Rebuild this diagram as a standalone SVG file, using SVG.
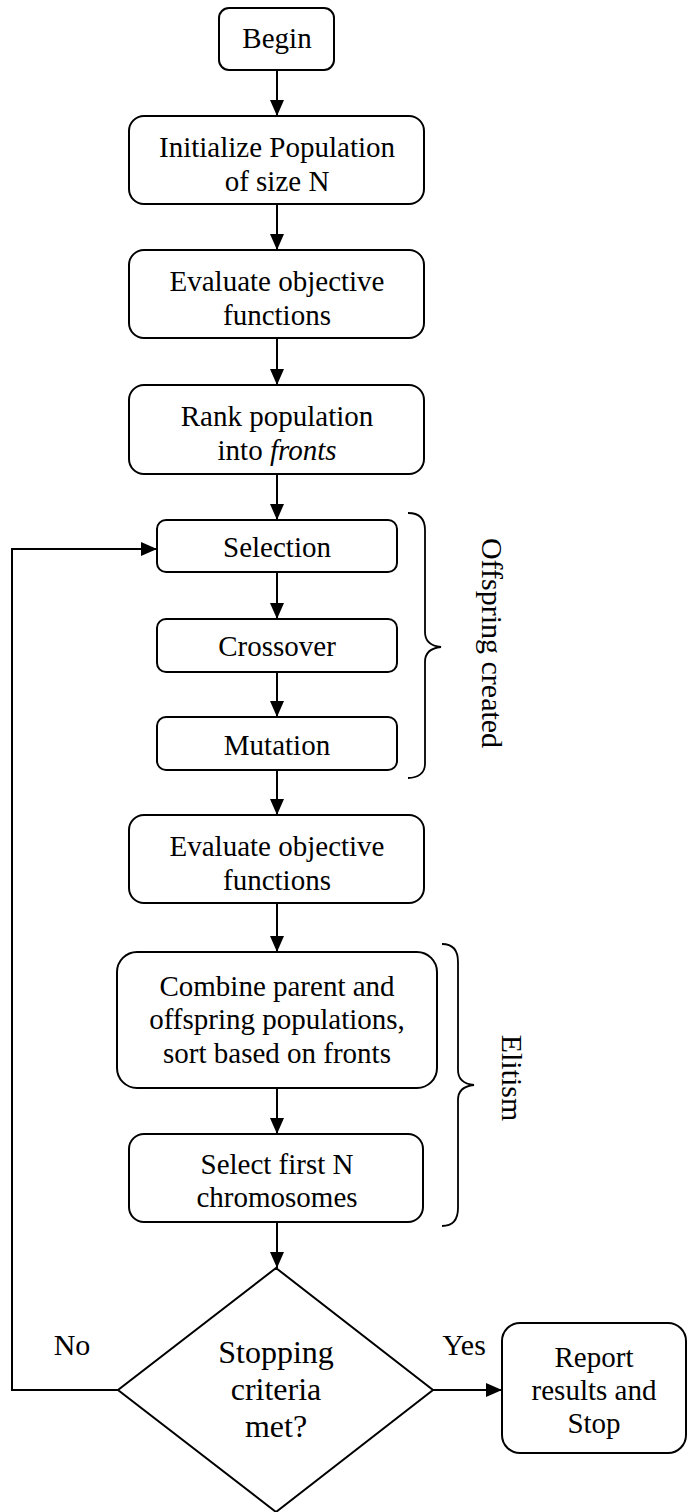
<svg xmlns="http://www.w3.org/2000/svg" width="688" height="1512" viewBox="0 0 688 1512">
  <style>
    .box { fill: #fff; stroke: #000; stroke-width: 2; }
    text { font-family: "Liberation Serif", serif; font-size: 14.5px; fill: #000; text-anchor: middle; }
    .side { font-size: 15px; }
    .big { font-size: 16px; }
    .rot { font-size: 30px; }
    .edge { fill: none; stroke: #000; stroke-width: 2; }
    .brace { fill: none; stroke: #000; stroke-width: 1.8; }
  </style>
  <defs>
    <marker id="arrow" viewBox="0 0 16 14" refX="16" refY="7" markerWidth="16" markerHeight="14" markerUnits="userSpaceOnUse" orient="auto">
      <path d="M0,0 L16,7 L0,14 Z" fill="#000"/>
    </marker>
  </defs>

  <!-- connectors -->
  <g id="connectors">
    <line class="edge" x1="277" y1="70" x2="277" y2="116" marker-end="url(#arrow)"/>
    <line class="edge" x1="277" y1="204" x2="277" y2="250" marker-end="url(#arrow)"/>
    <line class="edge" x1="277" y1="338" x2="277" y2="385" marker-end="url(#arrow)"/>
    <line class="edge" x1="277" y1="474" x2="277" y2="520" marker-end="url(#arrow)"/>
    <line class="edge" x1="277" y1="572" x2="277" y2="619" marker-end="url(#arrow)"/>
    <line class="edge" x1="277" y1="672" x2="277" y2="717" marker-end="url(#arrow)"/>
    <line class="edge" x1="277" y1="770" x2="277" y2="815" marker-end="url(#arrow)"/>
    <line class="edge" x1="277" y1="903" x2="277" y2="952" marker-end="url(#arrow)"/>
    <line class="edge" x1="277" y1="1088" x2="277" y2="1134" marker-end="url(#arrow)"/>
    <line class="edge" x1="277" y1="1222" x2="277" y2="1268" marker-end="url(#arrow)"/>
    <line class="edge" x1="433" y1="1390" x2="502" y2="1390" marker-end="url(#arrow)"/>
    <polyline class="edge" points="118,1390 12,1390 12,549 157,549" marker-end="url(#arrow)"/>
  </g>

  <!-- labels are set at half size and scaled up by 2 -->
  <g id="begin">
    <rect class="box" x="219" y="8" width="115" height="62" rx="10"/>
    <text transform="translate(277 48) scale(2)">Begin</text>
  </g>

  <g id="init">
    <rect class="box" x="129" y="116" width="295" height="88" rx="15"/>
    <text transform="translate(277 157) scale(2)">Initialize Population</text>
    <text transform="translate(277 191) scale(2)">of size N</text>
  </g>

  <g id="evaluate1">
    <rect class="box" x="129" y="250" width="295" height="88" rx="15"/>
    <text transform="translate(277 291) scale(2)">Evaluate objective</text>
    <text transform="translate(277 325) scale(2)">functions</text>
  </g>

  <g id="rank">
    <rect class="box" x="129" y="385" width="295" height="89" rx="15"/>
    <text transform="translate(277 426) scale(2)">Rank population</text>
    <text transform="translate(277 460) scale(2)">into <tspan font-style="italic">fronts</tspan></text>
  </g>

  <g id="selection">
    <rect class="box" x="157" y="520" width="240" height="52" rx="9"/>
    <text transform="translate(277 557) scale(2)">Selection</text>
  </g>

  <g id="crossover">
    <rect class="box" x="157" y="619" width="240" height="53" rx="9"/>
    <text transform="translate(277 656) scale(2)">Crossover</text>
  </g>

  <g id="mutation">
    <rect class="box" x="157" y="717" width="240" height="53" rx="9"/>
    <text transform="translate(277 755) scale(2)">Mutation</text>
  </g>

  <g id="offspring-brace">
    <path class="brace" d="M408,513 C418,513 425,518 425,530 L425,632 C425,641 431,646 441,647 C431,648 425,653 425,662 L425,764 C425,773 418,778 408,778"/>
    <text class="rot" transform="translate(482,643) rotate(90)">Offspring created</text>
  </g>

  <g id="evaluate2">
    <rect class="box" x="129" y="815" width="295" height="88" rx="15"/>
    <text transform="translate(277 856) scale(2)">Evaluate objective</text>
    <text transform="translate(277 890) scale(2)">functions</text>
  </g>

  <g id="combine">
    <rect class="box" x="117" y="952" width="320" height="136" rx="20"/>
    <text transform="translate(277 996) scale(2)">Combine parent and</text>
    <text transform="translate(277 1029) scale(2)">offspring populations,</text>
    <text transform="translate(277 1063) scale(2)">sort based on fronts</text>
  </g>

  <g id="select-first">
    <rect class="box" x="129" y="1134" width="294" height="88" rx="15"/>
    <text transform="translate(277 1174) scale(2)">Select first N</text>
    <text transform="translate(277 1207) scale(2)">chromosomes</text>
  </g>

  <g id="elitism-brace">
    <path class="brace" d="M442,944 C452,944 458,950 458,962 L458,1070 C458,1079 464,1084 474,1085 C464,1086 458,1091 458,1100 L458,1208 C458,1220 452,1226 442,1226"/>
    <text class="rot" transform="translate(502,1078) rotate(90)">Elitism</text>
  </g>

  <g id="stop-check">
    <polygon class="box" points="276,1268 433,1390 276,1512 118,1390"/>
    <text class="big" transform="translate(276 1363) scale(2)">Stopping</text>
    <text class="big" transform="translate(276 1400) scale(2)">criteria</text>
    <text class="big" transform="translate(276 1437) scale(2)">met?</text>
  </g>

  <g id="labels">
    <text class="side" transform="translate(72 1355) scale(2)">No</text>
    <text class="side" transform="translate(464 1355) scale(2)">Yes</text>
  </g>

  <g id="report">
    <rect class="box" x="502" y="1323" width="184" height="130" rx="18"/>
    <text transform="translate(594 1367) scale(2)">Report</text>
    <text transform="translate(594 1400) scale(2)">results and</text>
    <text transform="translate(594 1433) scale(2)">Stop</text>
  </g>
</svg>
